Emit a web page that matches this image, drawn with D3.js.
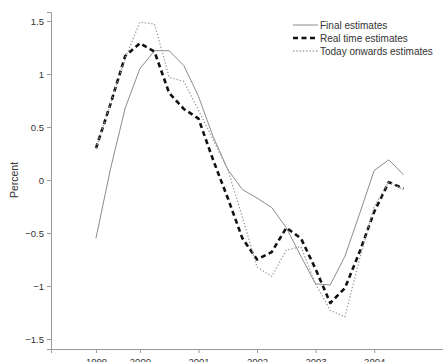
<!DOCTYPE html>
<html><head><meta charset="utf-8">
<script src="https://cdn.jsdelivr.net/npm/d3@7"></script>
<style>
html,body{margin:0;padding:0;background:#fff;}
svg{display:block;font-family:"Liberation Sans",Arial,sans-serif;}
</style></head>
<body><svg id="c" width="443" height="362"></svg>
<script>
// quarterly index 0..21 (first point at the "1999" tick)
const quarters = d3.range(22);
const finalEstimates = [-0.55, 0.11, 0.68, 1.05, 1.22, 1.22, 1.08, 0.79, 0.41, 0.10, -0.09, -0.17, -0.26, -0.45, -0.72, -0.98, -0.99, -0.72, -0.32, 0.09, 0.19, 0.05];
const realTimeEstimates = [0.30, 0.72, 1.17, 1.29, 1.21, 0.82, 0.67, 0.58, 0.19, -0.17, -0.55, -0.75, -0.68, -0.45, -0.55, -0.84, -1.16, -1.02, -0.68, -0.30, -0.02, -0.08];
const todayOnwardsEstimates = [0.30, 0.72, 1.15, 1.49, 1.47, 0.97, 0.93, 0.66, 0.38, 0.10, -0.35, -0.82, -0.91, -0.66, -0.63, -0.98, -1.23, -1.29, -0.75, -0.25, -0.02, -0.09];
const yearTickPositions = [0, 3, 7, 11, 15, 19];
const yearTickLabels = ["1999", "2000", "2001", "2002", "2003", "2004"];
const yTicks = [-1.5, -1, -0.5, 0, 0.5, 1, 1.5];
const seriesNames = ["Final estimates", "Real time estimates", "Today onwards estimates"];

const svg = d3.select("#c");
const x = d3.scaleLinear().domain([-3.07, 23.7]).range([51, 443]);
const y = d3.scaleLinear().domain([-1.594, 1.585]).range([349, 12]);

const styles = [
  {stroke:"#8c8c8c", width:1, dash:null},
  {stroke:"#111", width:2.6, dash:"5,3.5"},
  {stroke:"#9a9a9a", width:1.3, dash:"1.3,2"}
];
const series = [finalEstimates, realTimeEstimates, todayOnwardsEstimates];

// axes
const yAxis = d3.axisLeft(y).tickValues(yTicks).tickSize(4).tickPadding(3).tickFormat(d3.format(""));
const gy = svg.append("g").attr("transform", `translate(${x(-3.07)},0)`).call(yAxis);
const xAxis = d3.axisBottom(x).tickValues(yearTickPositions).tickSize(4).tickPadding(5)
  .tickFormat((d,i)=>yearTickLabels[i]);
const gx = svg.append("g").attr("transform", `translate(0,${y(-1.594)})`).call(xAxis);
[gx, gy].forEach(g=>{
  g.select(".domain").attr("stroke","#9a9a9a").attr("stroke-width",1);
  g.selectAll(".tick line").attr("stroke","#9a9a9a");
  g.selectAll(".tick text").attr("fill","#333").style("font-size","9.5px")
   .style("font-family","'Liberation Sans',Arial,sans-serif");
});

svg.append("text").attr("transform", `translate(18,${y(0)}) rotate(-90)`)
  .attr("text-anchor","middle").attr("fill","#333").style("font-size","10.5px").text("Percent");

// lines
const line = d3.line().x((d,i)=>x(quarters[i])).y(d=>y(d));
series.forEach((s,k)=>{
  svg.append("path").datum(s).attr("d", line).attr("fill","none")
    .attr("stroke", styles[k].stroke).attr("stroke-width", styles[k].width)
    .attr("stroke-dasharray", styles[k].dash).attr("stroke-linejoin","round");
});

// legend
const lg = svg.append("g");
seriesNames.forEach((n,k)=>{
  const yy = 25 + k*13;
  lg.append("line").attr("x1",293).attr("x2",318).attr("y1",yy).attr("y2",yy)
    .attr("stroke", styles[k].stroke).attr("stroke-width", styles[k].width)
    .attr("stroke-dasharray", styles[k].dash);
  lg.append("text").attr("x",320).attr("y",yy).attr("dy","0.35em").attr("fill","#333")
    .style("font-size","10px").text(n);
});
</script></body></html>
